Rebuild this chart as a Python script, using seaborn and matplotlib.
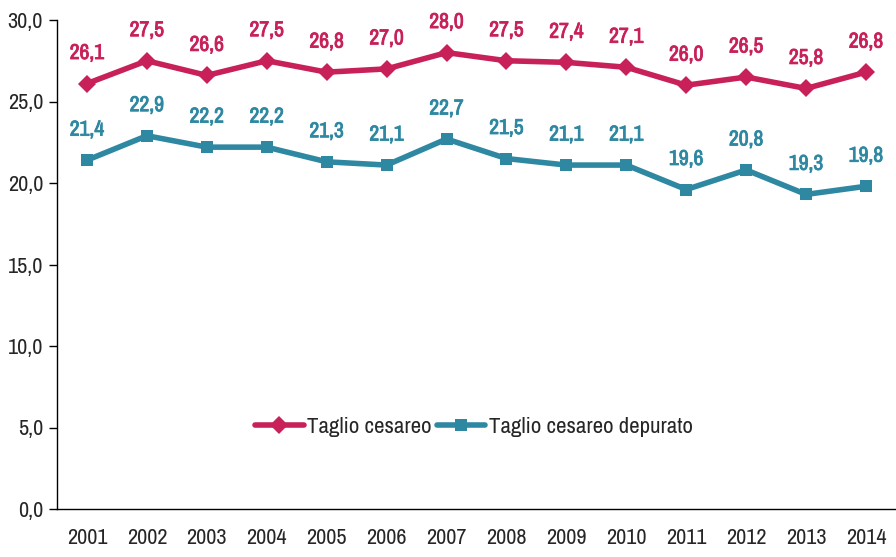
import matplotlib
matplotlib.use("Agg")
import matplotlib.pyplot as plt
import matplotlib.patheffects as pe
import seaborn as sns
import pandas as pd
from matplotlib import font_manager

years = ["2001", "2002", "2003", "2004", "2005", "2006", "2007", "2008", "2009", "2010", "2011", "2012", "2013", "2014"]
cesareo = [26.1, 27.5, 26.6, 27.5, 26.8, 27.0, 28.0, 27.5, 27.4, 27.1, 26.0, 26.5, 25.8, 26.8]
depurato = [21.4, 22.9, 22.2, 22.2, 21.3, 21.1, 22.7, 21.5, 21.1, 21.1, 19.6, 20.8, 19.3, 19.8]
series_names = ["Taglio cesareo", "Taglio cesareo depurato"]
yticks = [0, 5, 10, 15, 20, 25, 30]

sns.set_style("white")
names = {f.name for f in font_manager.fontManager.ttflist}
fam = "Liberation Sans"
for cand in ["Liberation Sans Narrow", "Arial Narrow", "Archivo Narrow"]:
    if cand in names:
        fam = cand
        break
plt.rcParams["font.family"] = [fam, "DejaVu Sans"]

pink = "#C8215A"
teal = "#2E88A2"

df = pd.DataFrame({"year": years * 2,
                   "value": cesareo + depurato,
                   "serie": [series_names[0]] * len(years) + [series_names[1]] * len(years)})
df["x"] = list(range(len(years))) * 2

fig = plt.figure(figsize=(8.96, 5.57), dpi=100)
ax = fig.add_axes([57 / 896, 48 / 557, 1 - 57 / 896, (509 - 20) / 557])

sns.lineplot(data=df, x="x", y="value", hue="serie", style="serie",
             palette=[pink, teal], markers=["D", "s"], dashes=False,
             linewidth=4, markersize=9, markeredgewidth=0, ax=ax)

for vals, col in [(cesareo, pink), (depurato, teal)]:
    for i, v in enumerate(vals):
        ax.annotate(f"{v:.1f}".replace(".", ","), (i, v), xytext=(0, 22),
                    textcoords="offset points", ha="center", va="center",
                    color=col, fontsize=15.5, fontweight="bold",
                    path_effects=[pe.withStroke(linewidth=0.6, foreground=col)])

ax.set_xlim(-0.5, len(years) - 0.5)
ax.set_ylim(0, 30)
ax.set_yticks(yticks)
ax.set_yticklabels([f"{t:.1f}".replace(".", ",") for t in yticks], fontsize=16)
ax.set_xticks(range(len(years)))
ax.set_xticklabels(years, fontsize=16)
ax.set_xticks([i - 0.5 for i in range(len(years) + 1)], minor=True)
ax.tick_params(axis="x", which="major", length=0, pad=14)
ax.tick_params(axis="x", which="minor", length=6, width=1, direction="out", color="black")
ax.tick_params(axis="y", which="major", length=6, width=1, direction="out", color="black", left=True, pad=4)
ax.set_xlabel("")
ax.set_ylabel("")
for s in ["top", "right"]:
    ax.spines[s].set_visible(False)
for s in ["left", "bottom"]:
    ax.spines[s].set_color("black")
    ax.spines[s].set_linewidth(1)

leg = ax.legend(loc="center", bbox_to_anchor=((474 - 57) / 839, (509 - 427) / 489),
                ncol=2, frameon=False, fontsize=16.5, handlelength=2.1, columnspacing=0.25,
                handletextpad=0.15)

fig.savefig("out.png", dpi=100)
